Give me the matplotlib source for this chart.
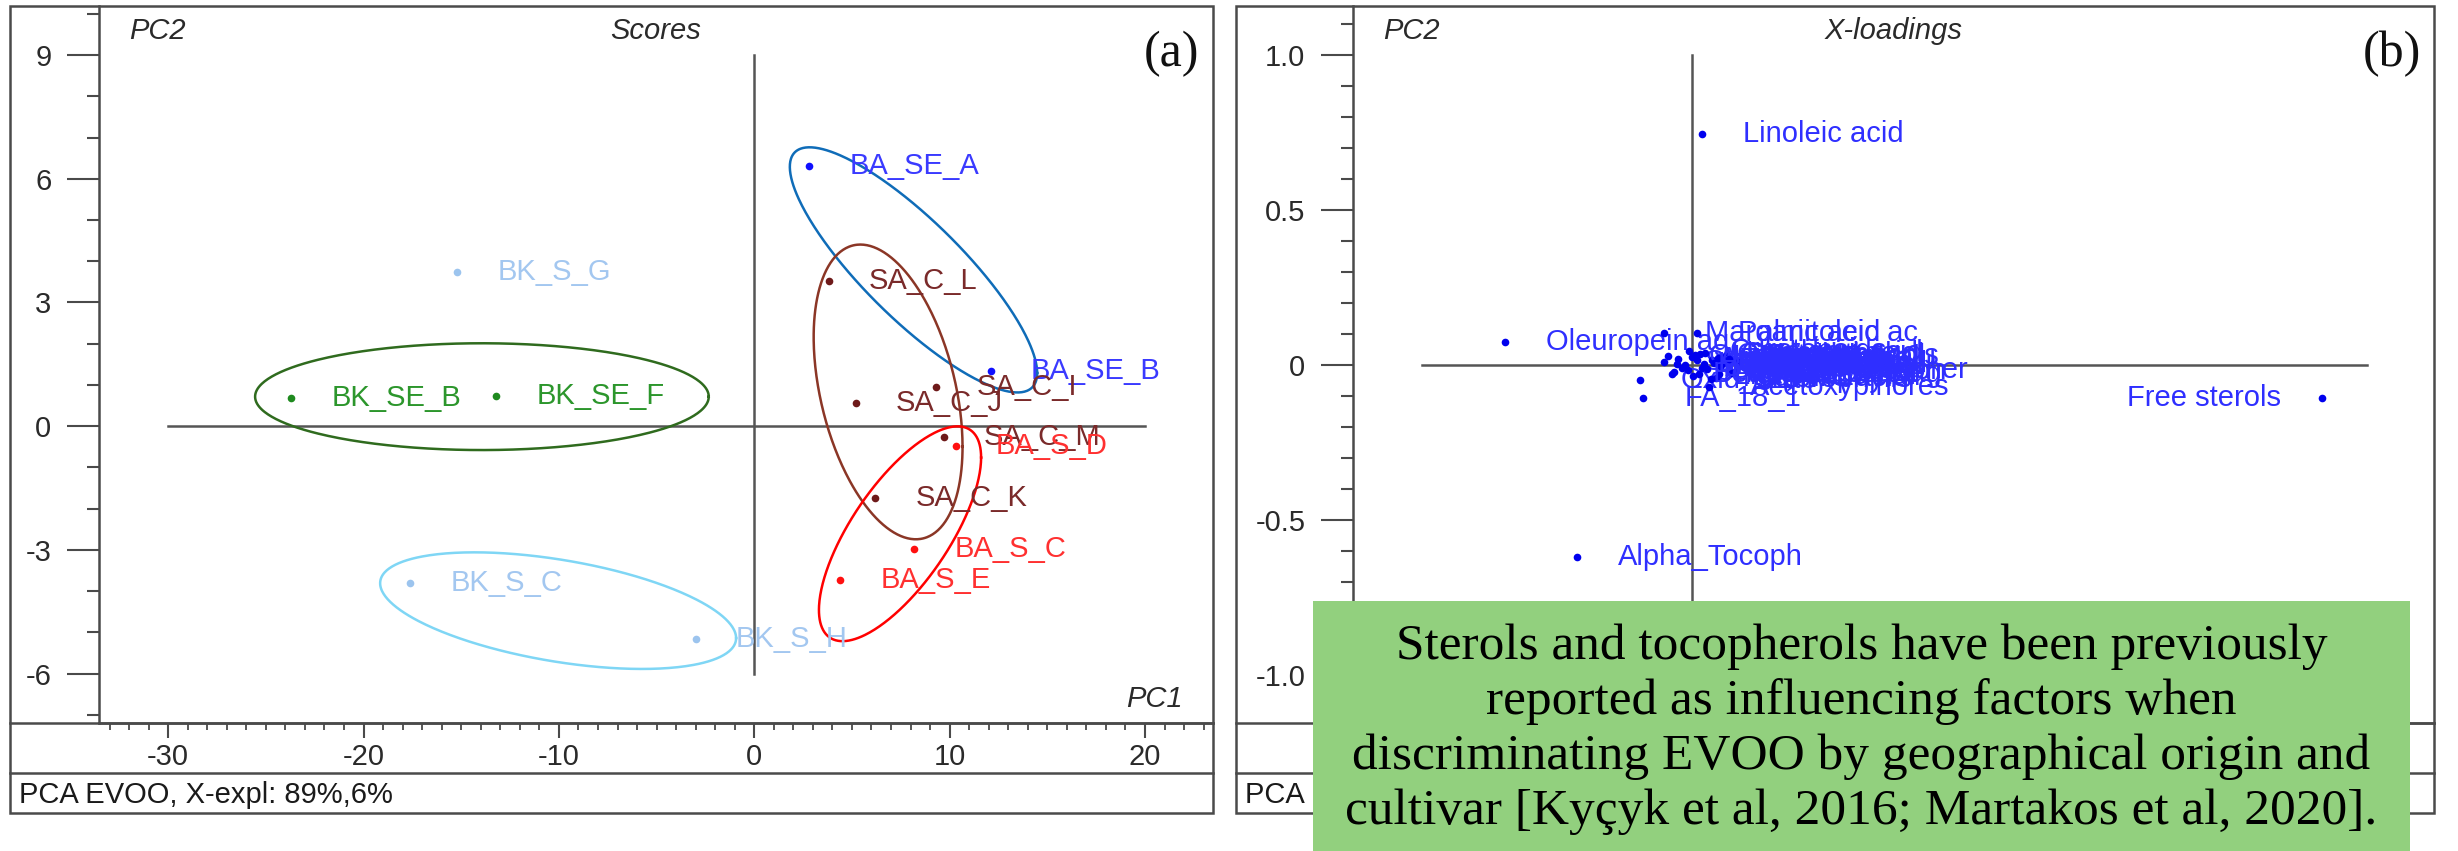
import numpy as np
import matplotlib
matplotlib.use("Agg")
import matplotlib.pyplot as plt
from matplotlib.lines import Line2D
from matplotlib.patches import Rectangle
from matplotlib.ticker import FixedLocator, MultipleLocator

plt.rcParams['font.family'] = ['Liberation Sans', 'DejaVu Sans']
plt.rcParams['axes.unicode_minus'] = False

W, H = 2458, 851  # output size in pixels

# ---------------- (a) scores ----------------
score_names = ['BK_S_G', 'BK_SE_B', 'BK_SE_F', 'BK_S_C', 'BK_S_H',
               'BA_SE_A', 'BA_SE_B', 'SA_C_L', 'SA_C_I', 'SA_C_J',
               'SA_C_M', 'SA_C_K', 'BA_S_D', 'BA_S_C', 'BA_S_E']
score_pc1 = [-15.2, -23.7, -13.2, -17.6, -3.0,
             2.8, 12.1, 3.8, 9.3, 5.2,
             9.7, 6.2, 10.3, 8.2, 4.4]
score_pc2 = [3.75, 0.69, 0.73, -3.81, -5.17,
             6.31, 1.34, 3.53, 0.95, 0.55,
             -0.27, -1.75, -0.47, -2.97, -3.72]
score_group = ['BK_S', 'BK_SE', 'BK_SE', 'BK_S', 'BK_S',
               'BA_SE', 'BA_SE', 'SA_C', 'SA_C', 'SA_C',
               'SA_C', 'SA_C', 'BA_S', 'BA_S', 'BA_S']

dot_colors = {'BK_S': '#9cc4ee', 'BK_SE': '#1f8a1f', 'BA_SE': '#1010ff',
              'SA_C': '#6e1a1a', 'BA_S': '#ff1010'}
text_colors = {'BK_S': '#a3c7f0', 'BK_SE': '#2c962c', 'BA_SE': '#3a3aff',
               'SA_C': '#7a2a2a', 'BA_S': '#ff3030'}

# group ellipses: centre and two conjugate half-diameters (data units)
ell_cx = [-13.94, -10.04, 8.15, 6.85, 7.46]
ell_cy = [0.715, -4.475, 3.79, 0.83, -2.61]
ell_ux = [11.61, 9.11, 6.33, 3.81, 4.15]
ell_uy = [0.0, -0.665, -2.50, -1.331, 1.848]
ell_vy = [1.295, 1.248, 1.609, 3.317, 1.836]
ell_colors = ['#2f6b1e', '#7fd6f5', '#0f6cb8', '#8b3626', '#ff0000']

score_xticks = [-30, -20, -10, 0, 10, 20]
score_yticks = [-6, -3, 0, 3, 6, 9]

# ---------------- (b) loadings ----------------
load_names = ['Linoleic acid', 'Oleuropein ag', 'Alpha_Tocoph', 'Free sterols',
              'FA_18_1', 'Oxid_Stab', 'Margaric acid', 'Palmitoleic ac',
              'Stearic acid', 'Squalene', 'Acetoxypinores', 'Gamma_Tocopher',
              'Hydroxytyrosol', 'Tyrosol', 'Oleacein', 'Ligstroside ag',
              'Linolenic acid', 'Palmitic acid', 'Total phenols', 'Pinoresinol',
              'Elenolic acid', 'Vanillic acid', 'Luteolin', 'Apigenin',
              'Beta_Tocoph', 'Oleocanthal',
              'Oleic acid', 'Arachidic acid', 'Behenic acid', 'Lignoceric aci',
              'Gadoleic acid', 'Myristic acid', 'Campesterol', 'Stigmasterol',
              'Beta_Sitoster', 'Erythrodiol', 'Uvaol', 'Chlorophylls',
              'Carotenoids', 'Total sterols', 'Peroxide valu', 'Heptadecenoic']
load_pc1 = [0.015, -0.277, -0.170, 0.933,
            -0.072, -0.077, -0.041, 0.008,
            -0.041, -0.027, 0.025, -0.006,
            0.000, 0.010, 0.030, 0.040,
            0.020, -0.010, 0.050, 0.060,
            0.045, 0.035, 0.015, 0.070,
            0.065, 0.005,
            -0.035, -0.020, -0.015, 0.002,
            0.012, 0.022, 0.032, 0.042,
            -0.030, 0.008, 0.055, 0.028,
            -0.005, 0.018, 0.038, -0.022]
load_pc2 = [0.745, 0.075, -0.619, -0.107,
            -0.105, -0.048, 0.103, 0.104,
            0.011, -0.021, -0.070, -0.016,
            0.025, -0.028, 0.018, -0.030,
            0.040, 0.000, 0.028, -0.025,
            0.005, -0.040, -0.010, 0.012,
            -0.020, 0.032,
            0.030, 0.020, -0.008, -0.035,
            0.036, -0.012, 0.008, -0.004,
            -0.030, 0.015, 0.020, -0.045,
            0.045, 0.002, 0.024, 0.004]
load_left = ['Free sterols']  # labels drawn to the left of the point

load_xticks = [-0.4, -0.2, 0, 0.2, 0.4, 0.6, 0.8, 1.0]
load_yticks = [-1.0, -0.5, 0, 0.5, 1.0]
load_ylabels = ['-1.0', '-0.5', '0', '0.5', '1.0']

note = ("Sterols and tocopherols have been previously\n"
        "reported as influencing factors when\n"
        "discriminating EVOO by geographical origin and\n"
        "cultivar [Kyçyk et al, 2016; Martakos et al, 2020].")

FRAME_C = '#4a4a4a'
TXT_C = '#2a2a2a'
FS = 21

fig = plt.figure(figsize=(W / 100, H / 100), dpi=100)
fig.patch.set_facecolor('white')


def fx(px):
    return px / W


def fy(py):
    return 1 - py / H


def fig_line(xs, ys, lw=1.8, z=5):
    fig.add_artist(Line2D([fx(v) for v in xs], [fy(v) for v in ys],
                          transform=fig.transFigure, color=FRAME_C, lw=lw, zorder=z))


FRAME_TOP, FRAME_BOT, XAXIS_Y, SEP_Y = 6, 813, 723, 773


def make_panel(x0, x1, axis_x, xlim, ylim, title, tag, status):
    ax = fig.add_axes([fx(axis_x), fy(XAXIS_Y), fx(x1 - axis_x), (XAXIS_Y - FRAME_TOP) / H])
    ax.set_xlim(*xlim)
    ax.set_ylim(*ylim)
    for s in ['top', 'right']:
        ax.spines[s].set_visible(False)
    for s in ['left', 'bottom']:
        ax.spines[s].set_color(FRAME_C)
        ax.spines[s].set_linewidth(1.8)
    ax.tick_params(axis='y', which='major', direction='out', length=22.8, width=1.5,
                   color=FRAME_C, labelsize=FS, labelcolor=TXT_C, pad=11.5)
    ax.tick_params(axis='y', which='minor', direction='out', length=8.5, width=1.5, color=FRAME_C)
    ax.tick_params(axis='x', which='major', direction='out', length=10.5, width=1.5,
                   color=FRAME_C, labelsize=FS, labelcolor=TXT_C, pad=4)
    ax.tick_params(axis='x', which='minor', direction='out', length=5.3, width=1.3, color=FRAME_C)
    # outer frame, axis line across the frame, status separator
    fig.add_artist(Rectangle((fx(x0), fy(FRAME_BOT)), fx(x1 - x0), (FRAME_BOT - FRAME_TOP) / H,
                             transform=fig.transFigure, fill=False, ec=FRAME_C, lw=1.8, zorder=5))
    fig_line([x0, x1], [XAXIS_Y, XAXIS_Y])
    fig_line([x0, x1], [SEP_Y, SEP_Y])
    fig.text(fx(axis_x + 30), fy(31), 'PC2', style='italic', fontsize=FS, color=TXT_C,
             ha='left', va='center')
    fig.text(fx((axis_x + x1) / 2), fy(31), title, style='italic', fontsize=FS, color=TXT_C,
             ha='center', va='center')
    fig.text(fx(x1 - 42), fy(54), tag, family=['Liberation Serif', 'DejaVu Serif'],
             fontsize=36, color='#111111', ha='center', va='center')
    fig.text(fx(x0 + 9), fy(795), status, fontsize=FS, color='#1a1a1a', ha='left', va='center')
    return ax


# ---- panel (a)
axa = make_panel(10, 1213, 99, (-33.54, 23.48), (-7.20, 10.19), 'Scores', '(a)',
                 'PCA EVOO, X-expl: 89%,6%')
axa.xaxis.set_major_locator(FixedLocator(score_xticks))
axa.xaxis.set_minor_locator(MultipleLocator(1))
axa.yaxis.set_major_locator(FixedLocator(score_yticks))
axa.yaxis.set_minor_locator(MultipleLocator(1))
axa.plot([score_xticks[0], score_xticks[-1]], [0, 0], color='#555555', lw=1.8)
axa.plot([0, 0], [score_yticks[0], score_yticks[-1]], color='#555555', lw=1.8)
axa.text(1 - 30 / (1213 - 99), 10 / (XAXIS_Y - FRAME_TOP), 'PC1', transform=axa.transAxes,
         style='italic', fontsize=FS, color=TXT_C, ha='right', va='bottom')

t = np.linspace(0, 2 * np.pi, 400)
for cx, cy, ux, uy, vy, c in zip(ell_cx, ell_cy, ell_ux, ell_uy, ell_vy, ell_colors):
    axa.plot(cx + ux * np.cos(t), cy + uy * np.cos(t) + vy * np.sin(t), color=c, lw=1.8, zorder=3)

for name, x, y, g in zip(score_names, score_pc1, score_pc2, score_group):
    axa.plot(x, y, 'o', ms=5.5, color=dot_colors[g], mec='none', zorder=4)
    axa.annotate(name, (x, y), xytext=(29, 0), textcoords='offset points',
                 ha='left', va='center', fontsize=FS, color=text_colors[g], zorder=4)

# ---- panel (b)
axb = make_panel(1236, 2434, 1353, (-0.502, 1.099), (-1.154, 1.158), 'X-loadings', '(b)',
                 'PCA EVOO, X-expl: 89%,6%')
axb.xaxis.set_major_locator(FixedLocator(load_xticks))
axb.xaxis.set_minor_locator(MultipleLocator(0.05))
axb.yaxis.set_major_locator(FixedLocator(load_yticks))
axb.set_yticklabels(load_ylabels)
axb.yaxis.set_minor_locator(MultipleLocator(0.1))
axb.plot([load_xticks[0], load_xticks[-1]], [0, 0], color='#555555', lw=1.8)
axb.plot([0, 0], [load_yticks[0], load_yticks[-1]], color='#555555', lw=1.8)

for name, x, y in zip(load_names, load_pc1, load_pc2):
    axb.plot(x, y, 'o', ms=5.5, color='#0000ee', mec='none', zorder=4)
    left = name in load_left
    axb.annotate(name, (x, y), xytext=(-29.5 if left else 29.5, 0), textcoords='offset points',
                 ha='right' if left else 'left', va='center', fontsize=FS,
                 color='#2f2fff', zorder=4)

# ---- green note box
bx0, bx1, by0 = 1313, 2410, 601
fig.add_artist(Rectangle((fx(bx0), 0), fx(bx1 - bx0), fy(by0), transform=fig.transFigure,
                         facecolor='#92d07e', edgecolor='none', zorder=20))
fig.text(fx((bx0 + bx1) / 2), fy(729), note, family=['Liberation Serif', 'DejaVu Serif'],
         fontsize=37, linespacing=1.23, ha='center', va='center', color='black', zorder=21)

fig.savefig('out.png', dpi=100)
